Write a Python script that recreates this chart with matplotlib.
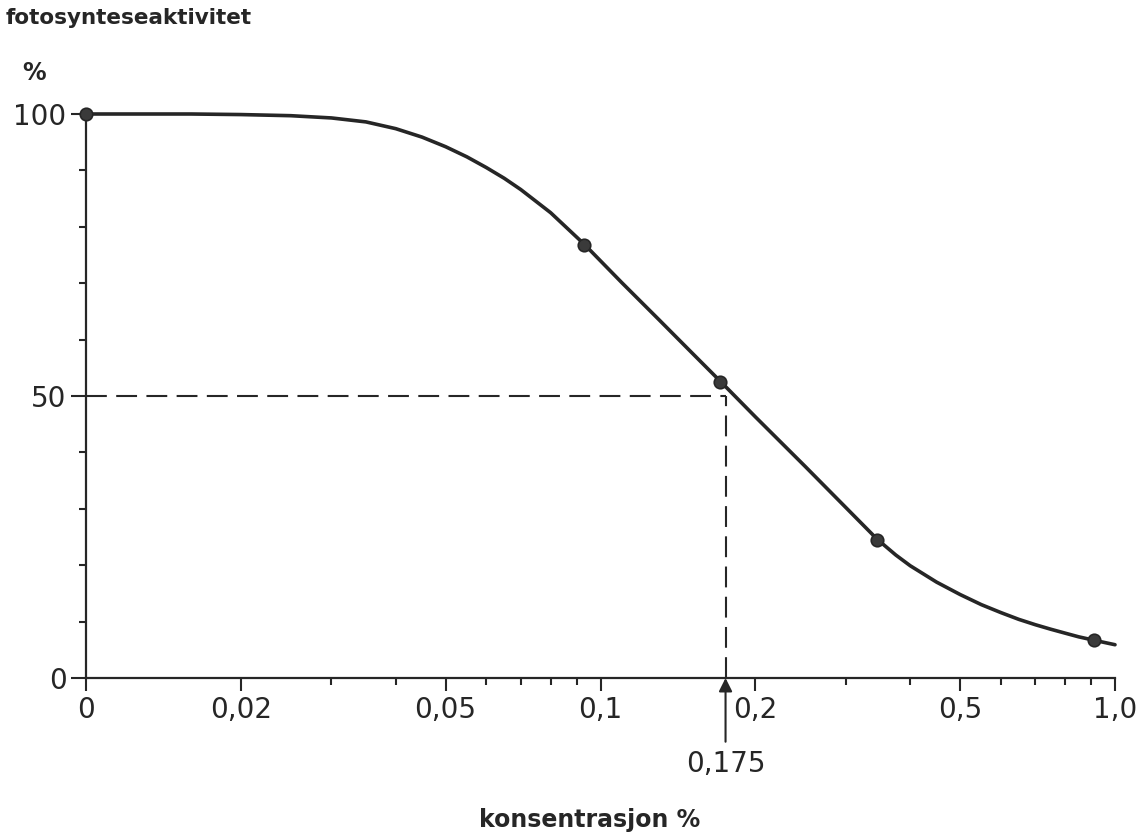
import matplotlib
matplotlib.use("Agg")
import matplotlib.pyplot as plt
from matplotlib.ticker import FixedLocator, FixedFormatter, NullFormatter

# ---- data ----
curve_x = [0.010, 0.013, 0.016, 0.020, 0.025, 0.030, 0.035, 0.040, 0.045, 0.050,
           0.055, 0.060, 0.065, 0.070, 0.080, 0.093, 0.110, 0.130, 0.150, 0.171,
           0.200, 0.250, 0.300, 0.345, 0.375, 0.400, 0.450, 0.500, 0.550, 0.600,
           0.650, 0.700, 0.750, 0.800, 0.850, 0.910, 1.000]
curve_y = [100.0, 100.0, 100.0, 99.9, 99.7, 99.3, 98.6, 97.4, 95.9, 94.2,
           92.4, 90.5, 88.6, 86.6, 82.5, 76.9, 70.1, 63.5, 57.8, 52.6,
           46.3, 37.5, 30.2, 24.6, 21.8, 19.9, 17.0, 14.8, 13.0, 11.6,
           10.4, 9.45, 8.65, 7.95, 7.3, 6.7, 5.9]
point_x = [0.010, 0.093, 0.171, 0.345, 0.910]
point_y = [100.0, 76.8, 52.5, 24.5, 6.7]
half_x = 0.175
half_y = 50

xtick_vals = [0.01, 0.02, 0.05, 0.1, 0.2, 0.5, 1.0]
xtick_labels = ["0", "0,02", "0,05", "0,1", "0,2", "0,5", "1,0"]
xminor_vals = [0.03, 0.04, 0.06, 0.07, 0.08, 0.09, 0.3, 0.4, 0.6, 0.7, 0.8, 0.9]
ytick_vals = [0, 50, 100]
ytick_labels = ["0", "50", "100"]
yminor_vals = [10, 20, 30, 40, 60, 70, 80, 90]
half_label = "0,175"
ylabel_text = "fotosynteseaktivitet"
yunit_text = "%"
xlabel_text = "konsentrasjon %"

INK = "#262626"
W, H = 1141, 838
fig = plt.figure(figsize=(W / 100, H / 100), dpi=100)
fig.patch.set_facecolor("white")

left, right, bottom, top = 86, 1115, 678, 114
ax = fig.add_axes([left / W, 1 - bottom / H, (right - left) / W, (bottom - top) / H])
ax.set_xscale("log")
ax.set_xlim(0.01, 1.0)
ax.set_ylim(0, 100)

for s in ("top", "right"):
    ax.spines[s].set_visible(False)
for s in ("left", "bottom"):
    ax.spines[s].set_linewidth(1.6)
    ax.spines[s].set_color(INK)

ax.xaxis.set_major_locator(FixedLocator(xtick_vals))
ax.xaxis.set_major_formatter(FixedFormatter(xtick_labels))
ax.xaxis.set_minor_locator(FixedLocator(xminor_vals))
ax.xaxis.set_minor_formatter(NullFormatter())
ax.yaxis.set_major_locator(FixedLocator(ytick_vals))
ax.yaxis.set_major_formatter(FixedFormatter(ytick_labels))
ax.yaxis.set_minor_locator(FixedLocator(yminor_vals))

ax.tick_params(axis="x", which="major", length=9, width=1.5, color=INK,
               labelsize=20, pad=4, labelcolor=INK)
ax.tick_params(axis="x", which="minor", length=5, width=1.5, color=INK)
ax.tick_params(axis="y", which="major", length=11, width=1.5, color=INK,
               labelsize=20, pad=3, labelcolor=INK)
ax.tick_params(axis="y", which="minor", length=5, width=1.5, color=INK)

# dashed guide lines
ax.plot([0.01, half_x], [half_y, half_y], color=INK, lw=1.5,
        dashes=(10, 4.5), clip_on=False, zorder=2)
ax.plot([half_x, half_x], [0, half_y], color=INK, lw=1.5,
        dashes=(10, 4.5), clip_on=False, zorder=2)

# curve and measured points
ax.plot(curve_x, curve_y, color=INK, lw=2.6, clip_on=False, zorder=3,
        solid_capstyle="round", solid_joinstyle="round")
ax.plot(point_x, point_y, "o", color="#3a3a3a", markeredgecolor=INK,
        markersize=9, markeredgewidth=1.2, clip_on=False, zorder=4)

# arrow and label at 0,175
ax.annotate("", xy=(half_x, 0), xytext=(half_x, -11.3),
            arrowprops=dict(arrowstyle="-|>", color=INK, lw=1.5,
                            mutation_scale=20, shrinkA=0, shrinkB=0),
            annotation_clip=False)
ax.text(half_x, -15.3, half_label, ha="center", va="center",
        fontsize=20, color=INK, clip_on=False)

# axis titles
fig.text(6 / W, 1 - 8 / H, ylabel_text, ha="left", va="top",
         fontsize=15.5, fontweight="bold", color=INK)
fig.text(34 / W, 1 - 73 / H, yunit_text, ha="center", va="center",
         fontsize=17, fontweight="bold", color=INK)
fig.text(590 / W, 1 - 820 / H, xlabel_text, ha="center", va="center",
         fontsize=17, fontweight="bold", color=INK)

fig.savefig("out.png", dpi=100, facecolor="white")
